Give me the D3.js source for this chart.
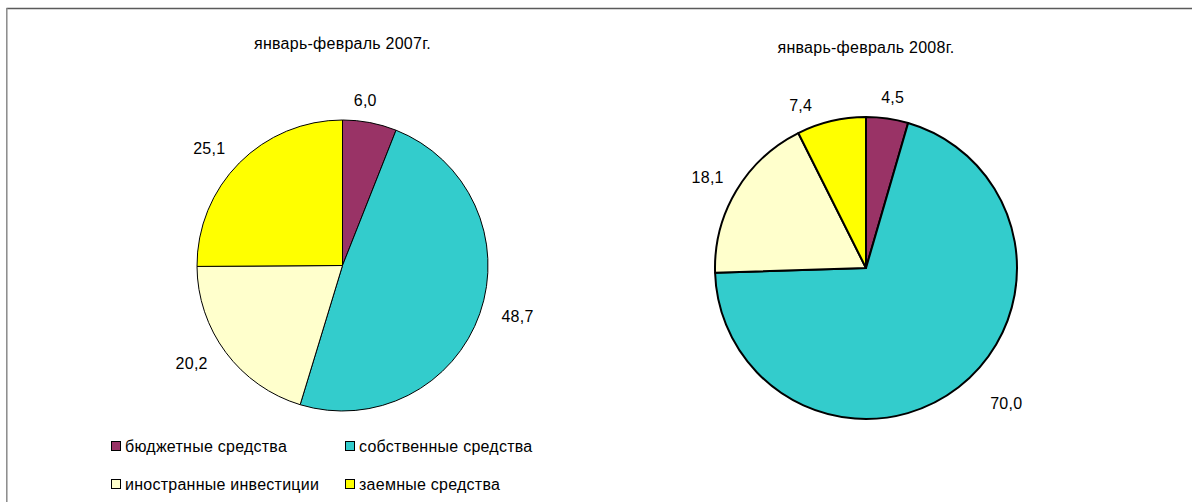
<!DOCTYPE html>
<html>
<head>
<meta charset="utf-8">
<script src="https://cdn.jsdelivr.net/npm/d3@7"></script>
<style>
  html, body { margin: 0; padding: 0; background: #fff; }
  svg { display: block; }
  text { font-family: "Liberation Sans", Arial, sans-serif; fill: #000; letter-spacing: 0.25px; }
</style>
</head>
<body>
<script>
// ---- data ----
const categories = ["бюджетные средства", "собственные средства", "иностранные инвестиции", "заемные средства"];
const colors = ["#993366", "#33CCCC", "#FFFFCC", "#FFFF00"];
const titles = ["январь-февраль 2007г.", "январь-февраль 2008г."];
const values2007 = [6.0, 48.7, 20.2, 25.1];
const values2008 = [4.5, 70.0, 18.1, 7.4];

// ---- layout (not data) ----
const W = 1192, H = 502;
const pies = [
  { values: values2007, title: titles[0], cx: 342.5, cy: 265.5, r: 145.5, stroke: 1, titleY: 49,
    nudge: [[-9, 1], [15, -5], [-15, -3], [-13, 2]] },
  { values: values2008, title: titles[1], cx: 866, cy: 268, r: 151, stroke: 2, titleY: 53,
    nudge: [[2, 3], [33, -3], [-8, -1], [-25, 8]] }
];
const labelGap = 24;
const fontSize = 16;

const svg = d3.select("body").append("svg").attr("width", W).attr("height", H);

// chart border (only top and left visible in frame)
svg.append("line").attr("x1", 6.5).attr("x2", W + 5).attr("y1", 8.5).attr("y2", 8.5)
  .attr("stroke", "#5a5a5a").attr("stroke-width", 1.5);
svg.append("line").attr("x1", 6.8).attr("x2", 6.8).attr("y1", 8).attr("y2", H + 5)
  .attr("stroke", "#8a8a8a").attr("stroke-width", 1.5);

const fmt = v => d3.format(".1f")(v).replace(".", ",");
const pie = d3.pie().sort(null).value(d => d);

pies.forEach(p => {
  const g = svg.append("g").attr("transform", `translate(${p.cx},${p.cy})`);
  const arc = d3.arc().innerRadius(0).outerRadius(p.r);
  const arcs = pie(p.values);
  g.selectAll("path.slice").data(arcs).enter().append("path")
    .attr("class", "slice")
    .attr("d", arc)
    .attr("fill", (d, i) => colors[i])
    .attr("stroke", "#000")
    .attr("stroke-width", p.stroke)
    .attr("stroke-linejoin", "round");

  const labelArc = d3.arc().innerRadius(p.r + labelGap).outerRadius(p.r + labelGap);
  g.selectAll("text.lbl").data(arcs).enter().append("text")
    .attr("class", "lbl")
    .attr("x", (d, i) => labelArc.centroid(d)[0] + p.nudge[i][0])
    .attr("y", (d, i) => labelArc.centroid(d)[1] + p.nudge[i][1])
    .attr("dy", "0.35em")
    .attr("text-anchor", "middle")
    .attr("font-size", fontSize)
    .text(d => fmt(d.data));

  svg.append("text")
    .attr("x", p.cx).attr("y", p.titleY)
    .attr("text-anchor", "middle")
    .attr("font-size", fontSize)
    .text(p.title);
});

// legend
const legendCols = [111, 345];
const legendRows = [441, 479];
const lg = svg.append("g");
categories.forEach((c, i) => {
  const x = legendCols[i % 2], y = legendRows[Math.floor(i / 2)];
  lg.append("rect").attr("x", x + 0.5).attr("y", y + 0.5).attr("width", 9).attr("height", 9)
    .attr("fill", colors[i]).attr("stroke", "#000").attr("stroke-width", 1);
  lg.append("text").attr("x", x + 14).attr("y", y + 5).attr("dy", "0.35em")
    .attr("font-size", fontSize).text(c);
});
</script>
</body>
</html>
